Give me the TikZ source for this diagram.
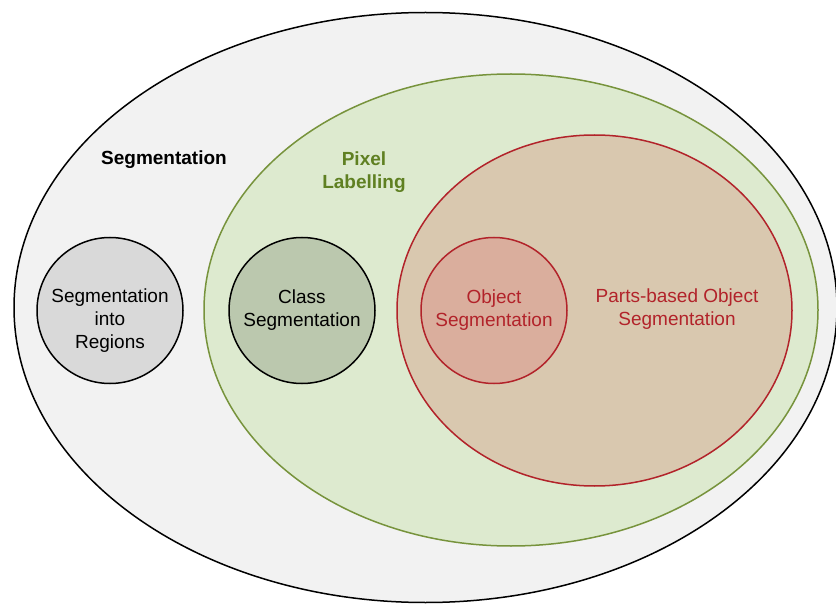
\documentclass[tikz,border=0pt]{standalone}
\usepackage{fontspec}
\setmainfont{Liberation Sans}
\usetikzlibrary{shapes.geometric}
\definecolor{outerfill}{HTML}{F2F2F2}
\definecolor{pixfill}{HTML}{DDEACF}
\definecolor{pixline}{HTML}{77933C}
\definecolor{pixtext}{HTML}{5F8022}
\definecolor{partfill}{HTML}{D9C8AF}
\definecolor{objline}{HTML}{B2232A}
\definecolor{objfill}{HTML}{DAAE9D}
\definecolor{clsfill}{HTML}{BBC8AE}
\definecolor{regfill}{HTML}{D9D9D9}
\tikzset{
  txt/.style={font=\fontsize{19}{23}\selectfont, align=center},
  blob/.style={ellipse, draw, line width=1.5pt, inner sep=0pt},
  disc/.style={circle, draw, line width=1.5pt, inner sep=0pt, minimum size=146pt, txt}
}

\begin{document}
\begin{tikzpicture}[x=1pt, y=-1pt, node distance={192pt}]
    \useasboundingbox (0,0) rectangle (836,604);
    \node[blob, fill=outerfill, minimum width=823pt, minimum height=590pt] (1) at (425.5,307.5) {};
    \node[blob, draw=pixline, fill=pixfill, minimum width=614pt, minimum height=472pt] (2) at (511,310) {};
    \node[blob, draw=objline, fill=partfill, minimum width=395pt, minimum height=351pt, txt, text=objline] (3) at (594.5,310.5) {};
    \node[disc, fill=regfill, label={[txt, yshift=-10pt]center:{Segmentation\\into\\Regions}}] (4) at (110,310.5) {};
    \node[disc, fill=clsfill] (5) [right of=4] {Class\\Segmentation};
    \node[disc, draw=objline, fill=objfill, text=objline] (6) [right of=5] {Object\\Segmentation};
    \node[draw=none, txt, font=\fontsize{19}{23}\selectfont\bfseries] (7) at (164,160) {Segmentation};
    \node[draw=none, txt, font=\fontsize{19}{23}\selectfont\bfseries, text=pixtext] (8) at (364,172) {Pixel\\Labelling};
    \node[draw=none, txt, text=objline] (9) at (677,309.5) {Parts-based Object\\Segmentation};
\end{tikzpicture}
\end{document}
